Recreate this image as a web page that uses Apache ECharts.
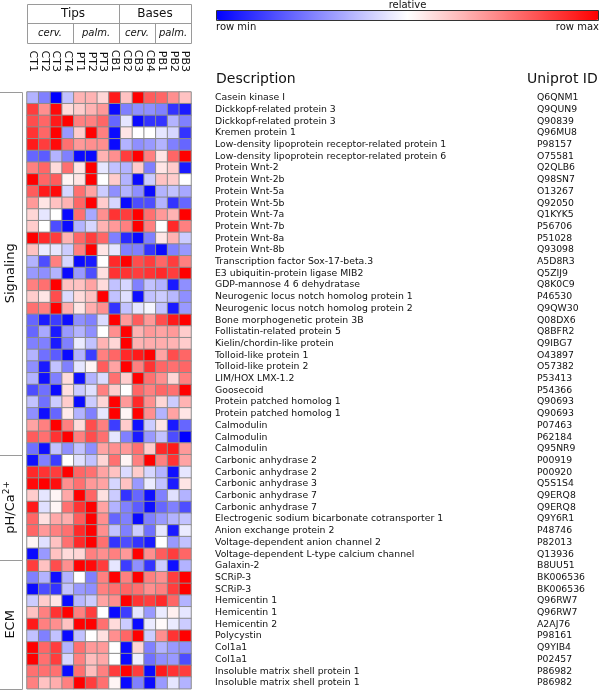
<!DOCTYPE html>
<html><head><meta charset="utf-8">
<script src="https://cdn.jsdelivr.net/npm/echarts@6/dist/echarts.min.js"></script>
<style>html,body{margin:0;padding:0;background:#fff}#c{width:600px;height:690px}</style>
</head><body><div id="c"></div>
<script>
// ---------- data ----------
const columns = ['CT1','CT2','CT3','CT4','PT1','PT2','PT3','CB1','CB2','CB3','CB4','PB1','PB2','PB3'];
const headerTop = ['Tips','Bases'];
const headerSub = ['cerv.','palm.','cerv.','palm.'];
const groupNames = ['Signaling','pH/Ca{sup|2+}','ECM'];
const groupSizes = [31, 9, 11];
const descriptions = [
 'Casein kinase I','Dickkopf-related protein 3','Dickkopf-related protein 3','Kremen protein 1',
 'Low-density lipoprotein receptor-related protein 1','Low-density lipoprotein receptor-related protein 6',
 'Protein Wnt-2','Protein Wnt-2b','Protein Wnt-5a','Protein Wnt-5b','Protein Wnt-7a','Protein Wnt-7b',
 'Protein Wnt-8a','Protein Wnt-8b','Transcription factor Sox-17-beta.3','E3 ubiquitin-protein ligase MIB2',
 'GDP-mannose 4 6 dehydratase','Neurogenic locus notch homolog protein 1','Neurogenic locus notch homolog protein 2',
 'Bone morphogenetic protein 3B','Follistatin-related protein 5','Kielin/chordin-like protein',
 'Tolloid-like protein 1','Tolloid-like protein 2','LIM/HOX LMX-1.2','Goosecoid',
 'Protein patched homolog 1','Protein patched homolog 1','Calmodulin','Calmodulin','Calmodulin',
 'Carbonic anhydrase 2','Carbonic anhydrase 2','Carbonic anhydrase 3','Carbonic anhydrase 7','Carbonic anhydrase 7',
 'Electrogenic sodium bicarbonate cotransporter 1','Anion exchange protein 2','Voltage-dependent anion channel 2',
 'Voltage-dependent L-type calcium channel',
 'Galaxin-2','SCRiP-3','SCRiP-3','Hemicentin 1','Hemicentin 1','Hemicentin 2','Polycystin',
 'Col1a1','Col1a1','Insoluble matrix shell protein 1','Insoluble matrix shell protein 1'
];
const uniprotIds = [
 'Q6QNM1','Q9QUN9','Q90839','Q96MU8','P98157','O75581','Q2QLB6','Q98SN7','O13267','Q92050','Q1KYK5','P56706',
 'P51028','Q93098','A5D8R3','Q5ZIJ9','Q8K0C9','P46530','Q9QW30','Q08DX6','Q8BFR2','Q9IBG7','O43897','O57382',
 'P53413','P54366','Q90693','Q90693','P07463','P62184','Q95NR9',
 'P00919','P00920','Q5S1S4','Q9ERQ8','Q9ERQ8','Q9Y6R1','P48746','P82013','Q13936',
 'B8UU51','BK006536','BK006536','Q96RW7','Q96RW7','A2AJ76','P98161','Q9YIB4','P02457','P86982','P86982'
];
// relative expression, 0 = row min, 1 = row max
const signalingValues = [
 [0.35,0.25,0.00,0.38,0.65,0.65,0.58,0.95,0.62,1.00,0.82,0.80,0.72,0.62],
 [0.88,0.72,0.98,0.57,0.60,0.65,0.70,0.02,0.25,0.28,0.28,0.25,0.10,0.05],
 [0.85,0.80,0.95,1.00,0.75,0.75,0.80,0.20,0.45,0.02,0.10,0.10,0.35,0.25],
 [0.90,0.80,1.00,0.30,0.60,1.00,0.75,0.02,0.55,0.50,0.50,0.45,0.42,0.10],
 [0.95,0.88,0.98,0.78,0.70,0.72,0.72,0.02,0.35,0.28,0.30,0.35,0.25,0.20],
 [0.20,0.18,0.35,0.25,0.02,0.02,0.65,0.72,0.88,1.00,0.75,0.55,0.80,1.00],
 [0.75,0.80,0.57,0.78,0.55,1.00,0.45,0.38,0.35,0.60,0.25,0.55,0.60,0.05],
 [1.00,0.80,0.82,0.52,0.55,1.00,0.50,0.60,0.35,0.02,0.40,0.62,0.60,0.50],
 [0.82,0.95,0.98,0.42,0.78,0.68,0.40,0.28,0.35,0.28,0.02,0.35,0.38,0.33],
 [0.70,0.55,0.62,0.65,0.80,1.00,0.60,0.42,0.02,0.15,0.15,0.35,0.10,0.20],
 [0.58,0.45,0.50,0.02,0.78,0.33,0.72,0.90,0.88,1.00,0.78,0.70,0.65,1.00],
 [0.60,0.50,0.15,0.02,0.35,0.42,0.65,0.70,0.75,1.00,0.75,0.50,0.92,0.75],
 [1.00,0.92,0.88,0.65,0.80,0.88,0.80,0.25,0.08,0.02,0.25,0.55,0.65,0.40],
 [0.62,0.46,0.45,0.40,0.75,1.00,0.55,0.45,0.25,0.25,0.10,0.02,0.25,0.30],
 [0.35,0.15,0.75,0.42,0.02,0.05,0.50,0.92,1.00,0.85,0.88,0.80,0.88,0.75],
 [0.30,0.28,0.35,0.02,0.30,0.15,0.56,0.90,0.90,0.88,0.90,0.92,0.88,1.00],
 [0.75,0.78,1.00,0.62,0.62,0.68,0.57,0.38,0.42,0.25,0.38,0.35,0.05,0.28],
 [0.60,0.55,0.85,0.43,0.57,0.62,1.00,0.38,0.44,0.03,0.38,0.40,0.36,0.28],
 [0.78,0.75,1.00,0.66,0.55,0.66,0.72,0.10,0.38,0.45,0.48,0.38,0.05,0.30],
 [0.20,0.05,0.12,0.03,0.28,0.25,0.43,1.00,0.70,0.82,0.70,0.85,0.95,1.00],
 [0.20,0.33,0.05,0.30,0.35,0.28,0.50,0.72,1.00,0.65,0.70,0.68,0.70,0.60],
 [0.25,0.25,0.05,0.25,0.46,0.38,0.65,0.58,1.00,0.65,0.66,0.66,0.65,0.60],
 [0.35,0.22,0.18,0.02,0.35,0.12,0.75,0.80,0.92,0.95,1.00,0.68,0.85,0.80],
 [0.28,0.05,0.38,0.25,0.45,0.52,0.82,0.68,1.00,0.75,0.90,0.80,0.78,0.80],
 [0.35,0.03,0.25,0.57,0.03,0.35,0.43,0.78,0.60,1.00,0.78,0.72,0.58,0.75],
 [0.15,0.22,0.02,0.56,0.40,0.44,0.75,0.60,0.50,0.80,0.75,0.80,0.78,1.00],
 [0.38,0.22,0.40,0.60,0.02,0.40,0.58,1.00,0.70,0.92,0.72,0.58,0.40,0.65],
 [0.28,0.03,0.20,0.54,0.35,0.25,0.45,1.00,0.52,1.00,0.72,0.35,0.68,0.55],
 [0.68,0.75,1.00,0.75,0.57,0.85,0.75,0.12,0.60,0.03,0.40,0.55,0.05,0.20],
 [0.82,0.78,0.90,1.00,0.75,0.85,0.78,0.45,0.25,0.05,0.30,0.38,0.15,0.00],
 [0.22,0.03,0.38,0.28,0.38,0.28,0.68,0.72,0.70,0.78,0.60,0.92,0.95,0.70]
];
const phCaValues = [
 [0.03,0.25,0.12,0.50,0.44,0.38,0.58,0.78,0.52,0.75,1.00,0.75,0.90,0.68],
 [0.92,0.90,0.88,1.00,0.80,0.78,0.68,0.62,0.43,0.60,0.42,0.35,0.03,0.45],
 [0.98,1.00,0.97,0.72,0.78,0.70,0.68,0.42,0.62,0.30,0.46,0.38,0.05,0.55],
 [0.60,0.45,0.52,0.67,1.00,0.80,0.56,0.40,0.10,0.20,0.03,0.25,0.44,0.35],
 [0.95,0.44,0.52,0.78,0.90,1.00,0.68,0.35,0.25,0.18,0.03,0.20,0.25,0.15],
 [0.80,0.56,0.67,0.66,0.82,1.00,0.72,0.20,0.25,0.02,0.25,0.30,0.35,0.38],
 [0.80,0.70,0.75,0.78,0.92,1.00,0.72,0.38,0.25,0.40,0.22,0.45,0.05,0.46],
 [0.52,0.44,0.62,0.78,0.92,1.00,0.78,0.10,0.15,0.10,0.05,0.50,0.30,0.38],
 [0.02,0.30,0.62,0.57,0.58,0.75,0.72,0.75,0.70,1.00,0.72,0.82,0.88,0.80]
];
const ecmValues = [
 [0.88,0.62,0.85,0.72,1.00,0.98,0.88,0.45,0.12,0.28,0.10,0.40,0.03,0.35],
 [0.25,0.35,0.03,0.35,0.50,0.25,0.75,1.00,0.75,1.00,0.75,0.72,0.88,1.00],
 [0.02,0.15,0.10,0.38,0.30,0.28,0.75,0.78,0.80,0.78,0.72,0.75,0.88,1.00],
 [0.40,0.60,0.55,0.02,0.36,0.40,0.68,0.72,1.00,0.90,0.88,0.92,0.80,0.35],
 [0.62,0.75,0.90,1.00,0.75,0.88,0.50,0.02,0.12,0.45,0.30,0.46,0.53,0.45],
 [0.95,0.75,0.72,0.62,1.00,1.00,0.78,0.57,0.40,0.02,0.46,0.51,0.46,0.40],
 [0.38,0.25,0.38,0.02,0.38,0.50,0.56,0.72,0.80,1.00,0.40,0.72,0.90,1.00],
 [1.00,0.80,0.88,0.35,0.78,0.70,0.70,0.50,0.02,0.58,0.25,0.35,0.30,0.28],
 [1.00,0.78,0.88,0.42,0.75,0.63,0.67,0.50,0.02,0.47,0.22,0.28,0.30,0.15],
 [0.78,0.78,0.78,0.02,0.78,0.63,0.75,0.88,1.00,0.88,0.02,0.95,0.90,0.88],
 [0.75,0.62,0.66,0.75,1.00,0.88,0.78,0.52,0.02,0.25,0.02,0.30,0.45,0.35]
];

// ---------- layout ----------
const FONT = 'DejaVu Sans';
const GRID_LEFT = 27, GRID_TOP = 92, CELL_H = 11.7, GRID_W = 164;
const allRows = signalingValues.concat(phCaValues, ecmValues);
const nRows = allRows.length;
const GRID_H = nRows * CELL_H;
const LINE = '#9a9a9a';
const ROW_FONT = 9.3;

const heatData = [];
allRows.forEach((row, r) => row.forEach((v, c) => heatData.push([c, r, v])));
const rowKeys = allRows.map((_, i) => 'r' + i);

const graphics = [];
// header table
const HX = [27, 73, 119, 155, 191], HY = [4.5, 23.5, 43.5];
graphics.push({type:'rect', shape:{x:HX[0]+0.5, y:HY[0], width:HX[4]-HX[0], height:HY[2]-HY[0]}, style:{fill:'none', stroke:LINE, lineWidth:1}, silent:true});
graphics.push({type:'line', shape:{x1:HX[0], y1:HY[1], x2:HX[4], y2:HY[1]}, style:{stroke:LINE, lineWidth:1}, silent:true});
graphics.push({type:'line', shape:{x1:HX[2]+0.5, y1:HY[0], x2:HX[2]+0.5, y2:HY[2]}, style:{stroke:LINE, lineWidth:1}, silent:true});
graphics.push({type:'line', shape:{x1:HX[1]+0.5, y1:HY[1], x2:HX[1]+0.5, y2:HY[2]}, style:{stroke:LINE, lineWidth:1}, silent:true});
graphics.push({type:'line', shape:{x1:HX[3]+0.5, y1:HY[1], x2:HX[3]+0.5, y2:HY[2]}, style:{stroke:LINE, lineWidth:1}, silent:true});
headerTop.forEach((t, i) => {
  graphics.push({type:'text', x:(HX[i*2]+HX[i*2+2])/2, y:(HY[0]+HY[1])/2, silent:true,
    style:{text:t, fontFamily:FONT, fontSize:12, fill:'#111', align:'center', verticalAlign:'middle'}});
});
headerSub.forEach((t, i) => {
  graphics.push({type:'text', x:(HX[i]+HX[i+1])/2, y:(HY[1]+HY[2])/2, silent:true,
    style:{text:t, fontFamily:FONT, fontSize:10, fontStyle:'italic', fill:'#111', align:'center', verticalAlign:'middle'}});
});
// colour bar frame and labels
const CB = {x:216, y:10, w:383, h:10};
graphics.push({type:'rect', shape:{x:CB.x+0.5, y:CB.y+0.5, width:CB.w-1, height:CB.h}, style:{fill:'none', stroke:'#333', lineWidth:1}, silent:true, z:100});
graphics.push({type:'text', x:CB.x + CB.w/2, y:5, silent:true, style:{text:'relative', fontFamily:FONT, fontSize:10, fill:'#111', align:'center', verticalAlign:'middle'}});
graphics.push({type:'text', x:CB.x, y:27, silent:true, style:{text:'row min', fontFamily:FONT, fontSize:10, fill:'#111', align:'left', verticalAlign:'middle'}});
graphics.push({type:'text', x:CB.x + CB.w, y:27, silent:true, style:{text:'row max', fontFamily:FONT, fontSize:10, fill:'#111', align:'right', verticalAlign:'middle'}});
// column headers of the table on the right
graphics.push({type:'text', x:216, y:79, silent:true, style:{text:'Description', fontFamily:FONT, fontSize:14, fill:'#111', align:'left', verticalAlign:'middle'}});
graphics.push({type:'text', x:527, y:79, silent:true, style:{text:'Uniprot ID', fontFamily:FONT, fontSize:14, fill:'#111', align:'left', verticalAlign:'middle'}});
// group boxes on the left
let start = 0;
groupNames.forEach((g, i) => {
  const top = GRID_TOP + start * CELL_H;
  const h = groupSizes[i] * CELL_H;
  graphics.push({type:'rect', shape:{x:-1, y:Math.round(top)+0.5, width:23.5, height:Math.round(h)}, style:{fill:'none', stroke:LINE, lineWidth:1}, silent:true});
  graphics.push({type:'text', x:11, y:top + h/2, rotation:Math.PI/2, silent:true,
    style:{text:g, fontFamily:FONT, fontSize:13, fill:'#111', align:'center', verticalAlign:'middle',
      rich:{sup:{fontFamily:FONT, fontSize:9, verticalAlign:'top', padding:[0,0,8,0]}}}});
  start += groupSizes[i];
});

const chart = echarts.init(document.getElementById('c'), null, {renderer:'canvas'});
chart.setOption({
  animation:false,
  backgroundColor:'#fff',
  textStyle:{fontFamily:FONT},
  grid:{left:GRID_LEFT, top:GRID_TOP, width:GRID_W, height:GRID_H, containLabel:false},
  xAxis:{type:'category', data:columns, position:'top',
    axisLine:{show:false}, axisTick:{show:false}, splitLine:{show:false},
    axisLabel:{rotate:90, margin:20, interval:0, fontFamily:FONT, fontSize:11, color:'#111'}},
  yAxis:[
    {type:'category', data:rowKeys, inverse:true, position:'right',
      axisLine:{show:false}, axisTick:{show:false}, splitLine:{show:false},
      axisLabel:{interval:0, margin:24, fontFamily:FONT, fontSize:ROW_FONT, color:'#111', formatter:(v, i) => descriptions[i]}},
    {type:'category', data:rowKeys, inverse:true, position:'right', offset:338,
      axisLine:{show:false}, axisTick:{show:false}, splitLine:{show:false},
      axisLabel:{interval:0, margin:8, fontFamily:FONT, fontSize:ROW_FONT, color:'#111', formatter:(v, i) => uniprotIds[i]}}
  ],
  visualMap:{type:'continuous', min:0, max:1, orient:'horizontal', left:CB.x, top:CB.y, padding:0,
    itemWidth:CB.h, itemHeight:CB.w, calculable:false, realtime:false, text:null, showLabel:false,
    inRange:{color:['#0000ff','#ffffff','#ff0000']}, seriesIndex:0},
  series:[{type:'heatmap', data:heatData, xAxisIndex:0, yAxisIndex:0,
    itemStyle:{borderColor:'#8c8c8c', borderWidth:1},
    emphasis:{disabled:true}, label:{show:false}}],
  graphic:graphics
});
</script></body></html>
